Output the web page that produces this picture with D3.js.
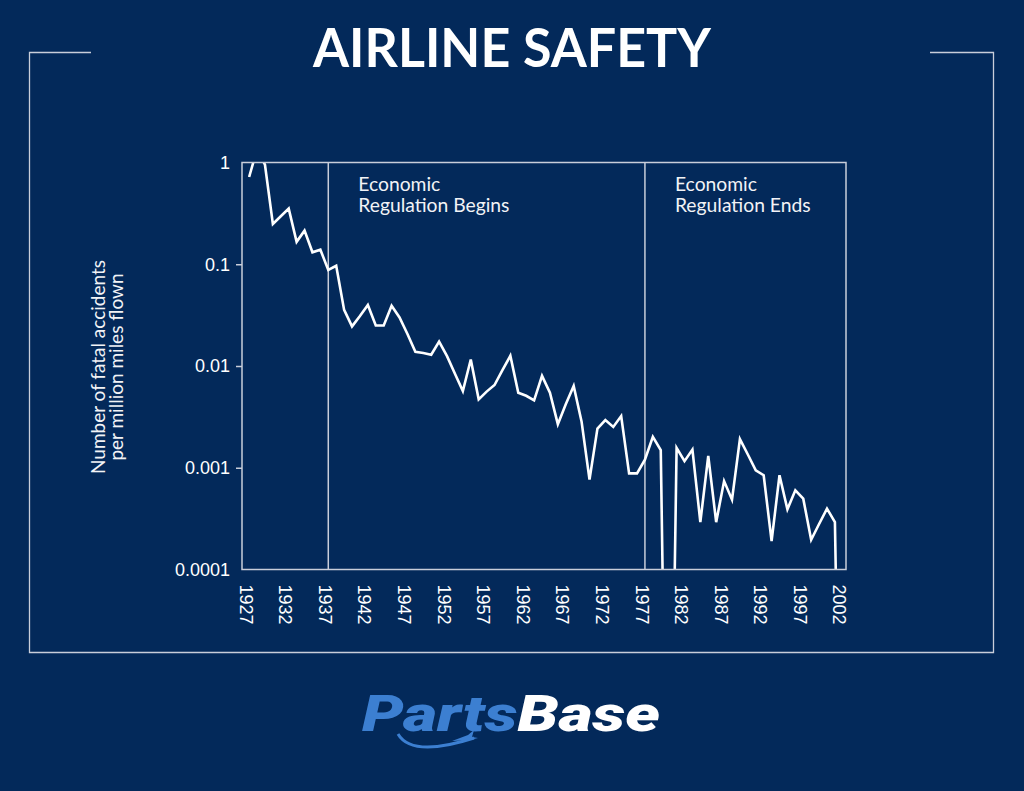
<!DOCTYPE html>
<html>
<head>
<meta charset="utf-8">
<title>Airline Safety</title>
<style>
  html, body { margin: 0; padding: 0; background: #03295a; }
  svg { display: block; }
  .border { fill: none; stroke: #c9ceda; stroke-width: 1.3; }
  .frame { fill: none; stroke: #c9ceda; stroke-width: 1.5; }
  .reg-line { stroke: #c9ceda; stroke-width: 1.5; }
  .rate-line { fill: none; stroke: #ffffff; stroke-width: 2.6; stroke-linejoin: miter; }
  .axis text { font-family: "Liberation Sans", Arial, sans-serif; font-size: 18px; fill: #ffffff; }
  .axis line { stroke: #c9ceda; stroke-width: 1.5; }
  .axis path { display: none; }
  .note { font-family: Lato, "Open Sans", sans-serif; font-size: 19.3px; fill: #f2f3f6; }
  .ytitle { font-family: Lato, "Open Sans", sans-serif; font-size: 19px; fill: #f2f3f6; }
  .title { font-family: Lato, "Open Sans", sans-serif; font-weight: 700; font-size: 53px; fill: #ffffff; }
  .logo { font-family: Roboto, "DejaVu Sans", sans-serif; font-weight: 900; font-style: italic; font-size: 50px; }
</style>
</head>
<body>
<svg id="chart" width="1024" height="791"></svg>
<script src="https://cdn.jsdelivr.net/npm/d3@7/dist/d3.min.js"></script>
<script>
// fatal accidents per million miles flown (0 = no fatal accident)
var years = [1927, 1928, 1929, 1930, 1931, 1932, 1933, 1934, 1935, 1936,
             1937, 1938, 1939, 1940, 1941, 1942, 1943, 1944, 1945, 1946,
             1947, 1948, 1949, 1950, 1951, 1952, 1953, 1954, 1955, 1956,
             1957, 1958, 1959, 1960, 1961, 1962, 1963, 1964, 1965, 1966,
             1967, 1968, 1969, 1970, 1971, 1972, 1973, 1974, 1975, 1976,
             1977, 1978, 1979, 1980, 1981, 1982, 1983, 1984, 1985, 1986,
             1987, 1988, 1989, 1990, 1991, 1992, 1993, 1994, 1995, 1996,
             1997, 1998, 1999, 2000, 2001, 2002];
var rates = [0.72, 1.35, 0.95, 0.249, 0.296, 0.352, 0.166, 0.214, 0.131, 0.139,
             0.088, 0.0966, 0.0356, 0.0245, 0.031, 0.0398, 0.025, 0.025, 0.039, 0.030,
             0.0206, 0.0138, 0.0134, 0.0129, 0.0174, 0.0125, 0.0084, 0.00567, 0.0116, 0.0047,
             0.0056, 0.0065, 0.0091, 0.0126, 0.00546, 0.0051, 0.0046, 0.0080, 0.00546, 0.00268,
             0.0042, 0.00635, 0.00283, 0.000765, 0.00243, 0.00294, 0.00252, 0.00322, 0.00088, 0.00088,
             0.0012, 0.00201, 0.00149, 0, 0.00157, 0.00116, 0.00151, 0.000292, 0.00131, 0.000292,
             0.00074, 0.000486, 0.00191, 0.00135, 0.000944, 0.000844, 0.00019, 0.000844, 0.00039, 0.0006,
             0.000497, 0.000196, 0.00028, 0.000396, 0.000292, 0];

var xTickYears = [1927, 1932, 1937, 1942, 1947, 1952, 1957, 1962, 1967, 1972, 1977, 1982, 1987, 1992, 1997, 2002];
var yTickValues = [1, 0.1, 0.01, 0.001, 0.0001];
var yTickLabels = ["1", "0.1", "0.01", "0.001", "0.0001"];

var regulationYears = [1937, 1977];
var regulationNotes = [["Economic", "Regulation Begins"], ["Economic", "Regulation Ends"]];

var width = 1024, height = 791;
var plot = { left: 242, right: 846, top: 162.5, bottom: 569.5 };
var zeroFloor = 1e-8;   // zero years dive below the axis and get clipped

var svg = d3.select("#chart");

svg.append("rect").attr("width", width).attr("height", height).attr("fill", "#03295a");

// outer bracket frame
svg.append("path")
    .attr("class", "border")
    .attr("d", "M91,52.5 H29.5 V652.5 H993.5 V52.5 H930");

svg.append("text")
    .attr("class", "title")
    .attr("x", width / 2)
    .attr("y", 67)
    .attr("text-anchor", "middle")
    .attr("textLength", 398)
    .attr("lengthAdjust", "spacingAndGlyphs")
    .text("AIRLINE SAFETY");

var x = d3.scaleLinear().domain([1926.1, 2002.4]).range([plot.left, plot.right]);
var y = d3.scaleLog().domain([0.0001, 1]).range([plot.bottom, plot.top]);

svg.append("clipPath").attr("id", "plot-clip")
  .append("rect")
    .attr("x", plot.left).attr("y", plot.top)
    .attr("width", plot.right - plot.left).attr("height", plot.bottom - plot.top);

// regulation markers
var regs = svg.append("g").selectAll("g")
    .data(regulationYears)
    .enter().append("g");

regs.append("line")
    .attr("class", "reg-line")
    .attr("x1", function(d) { return x(d); })
    .attr("x2", function(d) { return x(d); })
    .attr("y1", plot.top)
    .attr("y2", plot.bottom);

// one text per note line so the two lines never share a box
regs.each(function(d, i) {
    d3.select(this).selectAll("text.note")
        .data(regulationNotes[i])
        .enter().append("text")
          .attr("class", "note")
          .attr("x", x(d) + 30)
          .attr("y", function(t, j) { return 191 + j * 21; })
          .text(function(t) { return t; });
});

// the series
var line = d3.line()
    .x(function(d) { return x(d.year); })
    .y(function(d) { return y(Math.max(d.rate, zeroFloor)); });

var series = years.map(function(yr, i) { return { year: yr, rate: rates[i] }; });

svg.append("path")
    .datum(series)
    .attr("class", "rate-line")
    .attr("clip-path", "url(#plot-clip)")
    .attr("d", line);

// plot frame
svg.append("rect")
    .attr("class", "frame")
    .attr("x", plot.left).attr("y", plot.top)
    .attr("width", plot.right - plot.left).attr("height", plot.bottom - plot.top);

// y axis
var yAxis = svg.append("g")
    .attr("class", "axis")
    .attr("transform", "translate(" + plot.left + ",0)")
    .call(d3.axisLeft(y)
        .tickValues(yTickValues)
        .tickFormat(function(d, i) { return yTickLabels[i]; })
        .tickSize(6)
        .tickPadding(6));
yAxis.selectAll(".tick line")
    .filter(function(d) { return d === 1 || d === 0.0001; })
    .remove();

// x axis: rotated year labels, no tick marks
var xAxis = svg.append("g")
    .attr("class", "axis")
    .attr("transform", "translate(0," + plot.bottom + ")")
    .call(d3.axisBottom(x)
        .tickValues(xTickYears)
        .tickFormat(d3.format("d"))
        .tickSize(0));
xAxis.selectAll("text")
    .attr("transform", "rotate(90)")
    .attr("x", 15)
    .attr("y", 0)
    .attr("dy", "0.55em")
    .attr("text-anchor", "start");

// y axis title
svg.selectAll("text.ytitle")
    .data(["Number of fatal accidents", "per million miles flown"])
    .enter().append("text")
      .attr("class", "ytitle")
      .attr("transform", function(d, i) { return "translate(" + (105 + i * 18) + ",367) rotate(-90)"; })
      .attr("text-anchor", "middle")
      .text(function(d) { return d; });

// logo
var logo = svg.append("g");
logo.append("path")
    .attr("d", "M398,734 Q412,758 474,738")
    .attr("fill", "none")
    .attr("stroke", "#3c7fd1")
    .attr("stroke-width", 3);
logo.append("path")
    .attr("d", "M452,741 L468,735 L474,730 L472,737 L478,738 L470,740 Z")
    .attr("fill", "#3c7fd1");
var logoText = logo.append("text")
    .attr("class", "logo")
    .attr("x", 362)
    .attr("y", 731)
    .attr("textLength", 298)
    .attr("lengthAdjust", "spacingAndGlyphs");
logoText.append("tspan").attr("fill", "#3c7fd1").text("Parts");
logoText.append("tspan").attr("fill", "#ffffff").text("Base");
</script>
</body>
</html>
